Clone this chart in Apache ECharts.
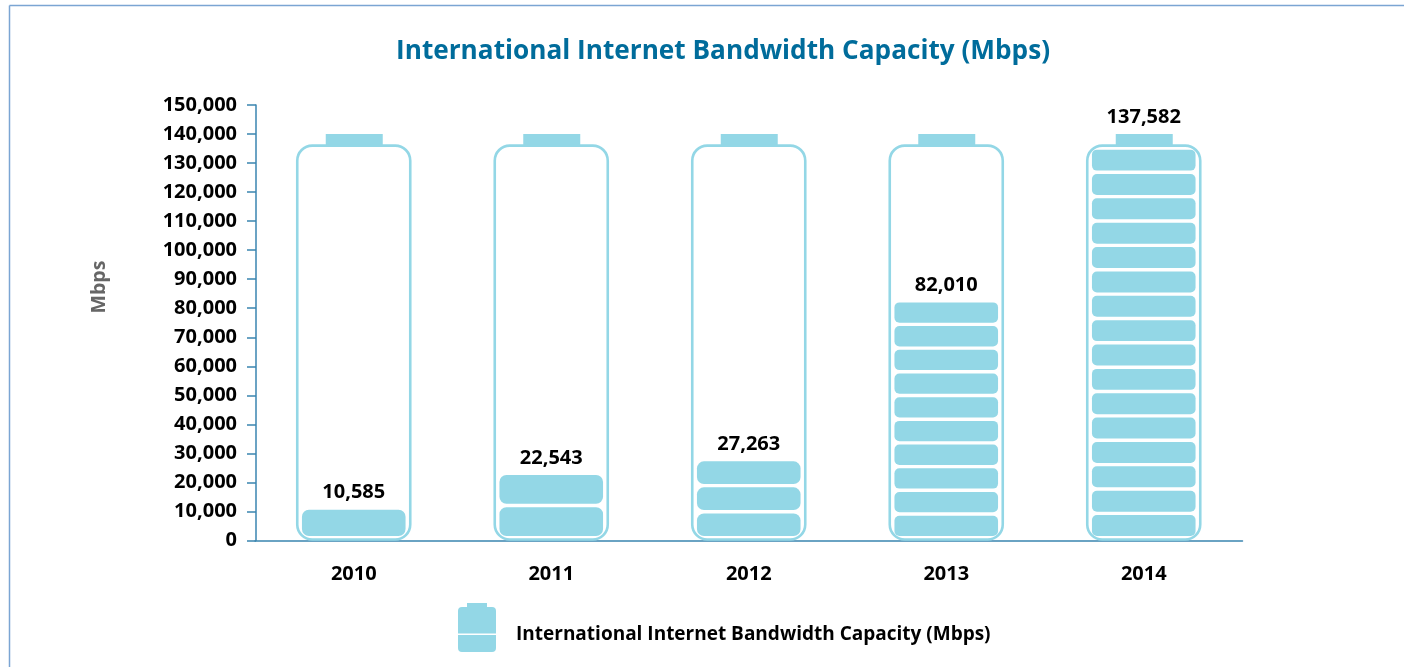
<!DOCTYPE html>
<html>
<head>
<meta charset="utf-8">
<style>html,body{margin:0;padding:0;background:#fff}#c{width:1404px;height:667px}</style>
<script src="https://cdn.jsdelivr.net/npm/echarts@6/dist/echarts.min.js"></script>
</head>
<body>
<div id="c"></div>
<script>
const years = ['2010', '2011', '2012', '2013', '2014'];
const capacity = [10585, 22543, 27263, 82010, 137582];
const cellCounts = [1, 2, 3, 10, 16];
const batteryBodyTop = 136000;
const batteryCapTop = 140000;
const seriesName = 'International Internet Bandwidth Capacity (Mbps)';
const titleText = 'International Internet Bandwidth Capacity (Mbps)';
const yName = 'Mbps';

const FILL = '#93d7e6', AXIS = '#3a85b0', FONT = '"Open Sans", sans-serif';

function renderItem(params, api) {
  const i = params.dataIndex;
  const val = api.value(1), rows = cellCounts[i];
  const cx = api.coord([i, 0])[0], y0 = api.coord([i, 0])[1];
  const bodyTop = api.coord([i, batteryBodyTop])[1];
  const capTop = api.coord([i, batteryCapTop])[1];
  const children = [];
  children.push({type:'rect', shape:{x:cx-28, y:capTop, width:57, height:bodyTop-capTop+1}, style:{fill:FILL}});
  children.push({type:'rect', shape:{x:cx-56.5, y:bodyTop, width:113, height:y0-bodyTop-1, r:15},
    style:{fill:'none', stroke:FILL, lineWidth:2.6}});
  const full = val > batteryBodyTop;
  const top = full ? bodyTop + 4 : api.coord([i, val])[1];
  const bottom = y0 - 4.5, gap = 3.4;
  const pitch = (bottom - top + gap) / rows;
  for (let k = 0; k < rows; k++) {
    children.push({type:'rect',
      shape:{x:cx-51.8, y:top+k*pitch, width:103.6, height:pitch-gap, r:rows>3?5:7},
      style:{fill:FILL}});
  }
  const labelY = (full ? capTop : top) - 17;
  children.push({type:'text', x:cx, y:labelY,
    style:{text:val.toLocaleString('en-US'), fill:'#000', font:'bold 20px '+FONT, align:'center', verticalAlign:'middle'}});
  return {type:'group', children};
}

const chart = echarts.init(document.getElementById('c'), null, {renderer:'canvas'});
chart.setOption({
  animation:false,
  backgroundColor:'#fff',
  title:{text:titleText, left:396, top:39, padding:0, itemGap:0,
    textStyle:{color:'#006c9b', fontFamily:FONT, fontWeight:'bold', fontSize:26.2}},
  grid:{left:255, top:105, width:987.5, height:435.5, containLabel:false},
  legend:{show:true, left:458, top:603, padding:0, itemGap:0, itemWidth:38, itemHeight:64, selectedMode:false,
    icon:'path://M9 0H29V4H9ZM4 4H34Q38 4 38 8V30.5H0V8Q0 4 4 4ZM0 32H38V45Q38 49 34 49H4Q0 49 0 45ZM0 64L0 64Z',
    textStyle:{color:'#000', fontFamily:FONT, fontWeight:'bold', fontSize:19, padding:[0,0,0,15]},
    data:[seriesName]},
  xAxis:{type:'category', data:years, axisTick:{show:false},
    axisLine:{lineStyle:{color:AXIS, width:1.5}},
    axisLabel:{color:'#000', fontFamily:FONT, fontWeight:'bold', fontSize:20, margin:24}},
  yAxis:{type:'value', min:0, max:150000, interval:10000, offset:-1,
    splitLine:{show:false},
    axisLine:{show:true, lineStyle:{color:AXIS, width:1.5}},
    axisTick:{show:true, length:9, lineStyle:{color:AXIS, width:1.5}},
    axisLabel:{color:'#000', fontFamily:FONT, fontWeight:'bold', fontSize:20, margin:19,
      formatter:v=>v.toLocaleString('en-US')}},
  graphic:[
    {type:'line', silent:true, shape:{x1:9.5,y1:5.5,x2:1404,y2:5.5}, style:{stroke:'#7ba5d3', lineWidth:1.5}},
    {type:'line', silent:true, shape:{x1:9.5,y1:5.5,x2:9.5,y2:667}, style:{stroke:'#7ba5d3', lineWidth:1.5}},
    {type:'text', silent:true, x:99, y:287, rotation:Math.PI/2,
      style:{text:yName, fill:'#666', font:'bold 19.5px '+FONT, align:'center', verticalAlign:'middle'}}
  ],
  series:[{type:'custom', name:seriesName, clip:false, renderItem,
    itemStyle:{color:FILL},
    encode:{x:0,y:1},
    data:capacity.map((v,i)=>[i,v])}]
});
</script>
</body>
</html>
